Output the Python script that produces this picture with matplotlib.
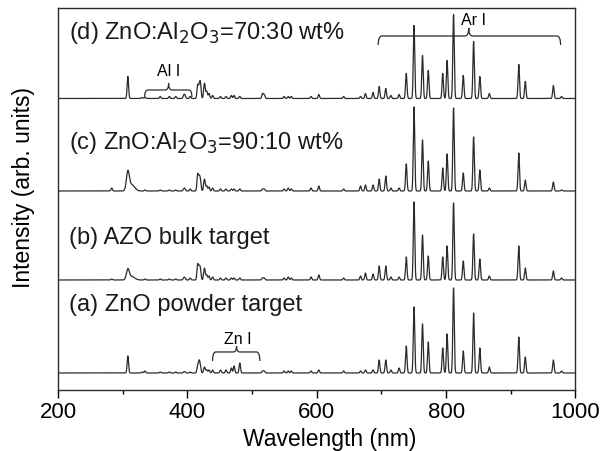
import numpy as np
import matplotlib
matplotlib.use("Agg")
import matplotlib.pyplot as plt
from matplotlib.path import Path
from matplotlib.patches import PathPatch
from matplotlib.ticker import MultipleLocator

plt.rcParams['font.family'] = ['Liberation Sans', 'DejaVu Sans']

# ---------------- data ----------------
labels = ["(d) ZnO:Al$_2$O$_3$=70:30 wt%",
          "(c) ZnO:Al$_2$O$_3$=90:10 wt%",
          "(b) AZO bulk target",
          "(a) ZnO powder target"]

# main Ar I lines (nm) and their heights for spectra d, c, b, a
ar_lines = [738.4, 750.4, 763.5, 772.4, 794.8, 801.5, 811.5, 826.5,
            842.5, 852.1, 866.8, 912.3, 922.4, 965.8, 978.5]
ar_d = [25, 73, 43, 28, 25, 38, 84, 23, 57, 22, 5, 34, 17, 13, 2]
ar_c = [27, 84, 51, 30, 23, 37, 83, 18, 54, 21, 3, 38, 11, 9, 1]
ar_b = [23, 78, 45, 24, 23, 34, 77, 19, 46, 21, 4, 34, 12, 9, 2]
ar_a = [27, 66, 49, 31, 25, 39, 85, 22, 60, 25, 6, 36, 16, 13, 2]

# minor lines (nm) and heights for spectra d, c, b, a
minor_lines = [283.0, 308.0, 330.0, 334.5, 358.0, 372.0, 382.0, 394.4, 396.2,
               404.4, 415.9, 418.2, 420.1, 425.9, 427.2, 430.0, 433.4, 439.0,
               451.1, 459.6, 468.0, 472.2, 481.1, 516.2, 518.8, 549.6, 555.9,
               560.7, 591.2, 603.2, 641.6, 667.7, 675.3, 687.1, 696.5, 706.7,
               714.7, 727.3]
minor_d = [0, 22, 1, 1, 2, 2, 2, 3, 3, 2, 13, 10, 15, 10, 8, 7, 5, 3,
           2, 2, 3, 3, 2, 5, 4, 2, 2, 2, 2, 4, 2, 2, 5, 6, 12, 10, 3, 4]
minor_c = [3, 0, 0, 1, 1, 1, 1, 2, 2, 2, 16, 12, 10, 8, 6, 5, 4, 3,
           2, 2, 2, 2, 2, 2, 2, 2, 3, 2, 3, 5, 2, 5, 6, 6, 12, 15, 3, 3]
minor_b = [1, 0, 0, 1, 1, 1, 1, 2, 2, 2, 15, 11, 10, 8, 6, 5, 4, 3,
           2, 2, 2, 2, 2, 2, 2, 2, 3, 2, 3, 5, 2, 4, 7, 6, 14, 14, 3, 3]
minor_a = [0, 17, 1, 2, 1, 1, 1, 1, 1, 1, 7, 11, 6, 4, 3, 3, 3, 3,
           3, 3, 5, 7, 10, 2, 2, 2, 2, 2, 2, 3, 2, 2, 3, 3, 13, 13, 3, 5]

# broad band near 309 nm (heights for d, c, b, a)
band_center = 309.0
band_heights = [0, 18, 10, 0]

# layout: baselines of the stacked spectra (vertical offsets)
offsets = [291.5, 199.0, 110.0, 17.0]

# ---------------- build spectra ----------------
wl = np.linspace(200, 1000, 8001)


def spectrum(lines_main, h_main, lines_min, h_min, band_h, width=1.1):
    y = np.zeros_like(wl)
    for c, h in zip(lines_main, h_main):
        y += h * np.exp(-0.5 * ((wl - c) / width) ** 2)
    for c, h in zip(lines_min, h_min):
        y += h * np.exp(-0.5 * ((wl - c) / width) ** 2)
    if band_h:
        y += band_h * np.exp(-0.5 * ((wl - (band_center - 1)) / 2.2) ** 2)
        y += 0.35 * band_h * np.exp(-0.5 * ((wl - (band_center + 5)) / 4.5) ** 2)
    return y


ar_sets = [ar_d, ar_c, ar_b, ar_a]
minor_sets = [minor_d, minor_c, minor_b, minor_a]

fig = plt.figure(figsize=(6.13, 4.51), dpi=100)
ax = fig.add_axes([0.0946, 0.1353, 0.8442, 0.847])

for ar_h, mn_h, bh, off in zip(ar_sets, minor_sets, band_heights, offsets):
    y = spectrum(ar_lines, ar_h, minor_lines, mn_h, bh)
    ax.plot(wl, y + off, color='#2b2b2b', lw=0.9)

# panel labels
label_y = [357, 247, 152, 85]
for lab, ly in zip(labels, label_y):
    ax.text(217, ly, lab, fontsize=17, ha='left', va='center', color='#1a1a1a')


def brace(x0, x1, xm, y, hd, hu, dx=6):
    verts = [(x0, y - hd), (x0, y), (x0 + dx, y),
             (xm - dx, y), (xm, y), (xm, y + hu),
             (xm, y), (xm + dx, y),
             (x1 - dx, y), (x1, y), (x1, y - hd)]
    codes = [Path.MOVETO, Path.CURVE3, Path.CURVE3,
             Path.LINETO, Path.CURVE3, Path.CURVE3,
             Path.CURVE3, Path.CURVE3,
             Path.LINETO, Path.CURVE3, Path.CURVE3]
    ax.add_patch(PathPatch(Path(verts, codes), fill=False, lw=0.9,
                           edgecolor='#2b2b2b'))


brace(695, 977, 835, 354, 9, 8)
ax.text(842, 369, "Ar I", fontsize=11.5, ha='center', va='center')
brace(334, 407, 371, 300, 7, 7, dx=5)
ax.text(371, 318, "Al I", fontsize=11.5, ha='center', va='center')
brace(439, 512, 476, 38, 9, 6, dx=5)
ax.text(478, 50, "Zn I", fontsize=11.5, ha='center', va='center')

ax.set_xlim(200, 1000)
ax.set_ylim(0, 382)
ax.set_yticks([])
ax.xaxis.set_major_locator(MultipleLocator(200))
ax.xaxis.set_minor_locator(MultipleLocator(100))
ax.tick_params(axis='x', which='major', direction='out', length=6, width=1,
               labelsize=16, pad=3)
ax.tick_params(axis='x', which='minor', direction='out', length=3, width=1)
for s in ax.spines.values():
    s.set_linewidth(1.0)
    s.set_color('#2b2b2b')
ax.set_xlabel("Wavelength (nm)", fontsize=16.5)
ax.xaxis.set_label_coords(0.525, -0.1)
ax.set_ylabel("Intensity (arb. units)", fontsize=16.5)
ax.yaxis.set_label_coords(-0.045, 0.53)

fig.savefig("out.png", dpi=100)
